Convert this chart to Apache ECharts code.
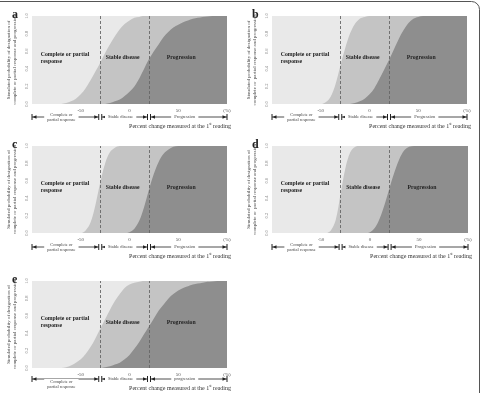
<!DOCTYPE html>
<html>
<head>
<meta charset="utf-8">
<script src="https://cdn.jsdelivr.net/npm/echarts@6/dist/echarts.min.js"></script>
<style>
    html, body { margin: 0; padding: 0; background: #fff; }
    #main { width: 483px; height: 393px; }
</style>
</head>
<body>
<div id="main"></div>
<script>
// percent change grid (x), shared by every curve
var xs = [-100, -95, -90, -85, -80, -75, -70, -65, -60, -55, -50, -45, -40, -35, -30, -25, -20, -15, -10, -5,
    0, 5, 10, 15, 20, 25, 30, 35, 40, 45, 50, 55, 60, 65, 70, 75, 80, 85, 90, 95, 100];

// P(stable disease or progression) - upper boundary
var upperA = [0, 0, 0, 0, 0, 0, 0, 0.01, 0.03, 0.06, 0.11, 0.18, 0.27, 0.37, 0.47, 0.58, 0.68, 0.77, 0.85, 0.91, 0.95, 0.98, 0.99,
    1, 1, 1, 1, 1, 1, 1, 1, 1, 1, 1, 1, 1, 1, 1, 1, 1, 1];
var upperB = [0, 0, 0, 0, 0, 0, 0, 0, 0, 0, 0, 0.02, 0.08, 0.22, 0.43, 0.63, 0.8, 0.91, 0.97, 0.99,
    1, 1, 1, 1, 1, 1, 1, 1, 1, 1, 1, 1, 1, 1, 1, 1, 1, 1, 1, 1, 1];
var upperC = [0, 0, 0, 0, 0, 0, 0, 0, 0, 0, 0, 0.03, 0.12, 0.32, 0.58, 0.8, 0.93, 0.98,
    1, 1, 1, 1, 1, 1, 1, 1, 1, 1, 1, 1, 1, 1, 1, 1, 1, 1, 1, 1, 1, 1, 1];
var upperD = [0, 0, 0, 0, 0, 0, 0, 0, 0, 0, 0, 0, 0.03, 0.15, 0.45, 0.75, 0.93, 0.99,
    1, 1, 1, 1, 1, 1, 1, 1, 1, 1, 1, 1, 1, 1, 1, 1, 1, 1, 1, 1, 1, 1, 1];
var upperE = [0, 0, 0, 0, 0, 0, 0, 0.01, 0.03, 0.06, 0.1, 0.16, 0.24, 0.34, 0.45, 0.56, 0.67, 0.77, 0.85, 0.92, 0.96, 0.98, 0.99,
    1, 1, 1, 1, 1, 1, 1, 1, 1, 1, 1, 1, 1, 1, 1, 1, 1, 1];

// P(progression) - lower boundary
var lowerA = [0, 0, 0, 0, 0, 0, 0, 0, 0, 0, 0, 0, 0, 0, 0, 0, 0.01, 0.03, 0.05, 0.09, 0.14, 0.2, 0.29, 0.4, 0.51,
    0.6, 0.68, 0.76, 0.82, 0.87, 0.9, 0.93, 0.95, 0.97, 0.98, 0.99, 0.995, 1, 1, 1, 1];
var lowerB = [0, 0, 0, 0, 0, 0, 0, 0, 0, 0, 0, 0, 0, 0, 0, 0, 0, 0.01, 0.03, 0.06, 0.11, 0.18, 0.28, 0.39, 0.5,
    0.62, 0.74, 0.84, 0.92, 0.97, 0.99, 1, 1, 1, 1, 1, 1, 1, 1, 1, 1];
var lowerC = [0, 0, 0, 0, 0, 0, 0, 0, 0, 0, 0, 0, 0, 0, 0, 0, 0, 0, 0, 0, 0.01, 0.05, 0.14, 0.3, 0.5,
    0.68, 0.82, 0.91, 0.96, 0.99, 1, 1, 1, 1, 1, 1, 1, 1, 1, 1, 1];
var lowerD = [0, 0, 0, 0, 0, 0, 0, 0, 0, 0, 0, 0, 0, 0, 0, 0, 0, 0, 0, 0, 0.01, 0.06, 0.17, 0.33, 0.52,
    0.7, 0.85, 0.95, 0.99, 1, 1, 1, 1, 1, 1, 1, 1, 1, 1, 1, 1];
var lowerE = [0, 0, 0, 0, 0, 0, 0, 0, 0, 0, 0, 0, 0, 0, 0, 0.01, 0.02, 0.04, 0.06, 0.1, 0.15, 0.22, 0.3, 0.39, 0.48,
    0.57, 0.66, 0.73, 0.8, 0.85, 0.89, 0.92, 0.94, 0.96, 0.97, 0.98, 0.99, 0.995, 1, 1, 1];

var panelLetters = ['a', 'b', 'c', 'd', 'e'];
var cutoffs = [-30, 20];
var xTickValues = [-50, 0, 50];
var xUnit = '(%)';
var yTitles = [
    'Simulated probability of designation of\ncomplete or partial response and progression',
    'Simulated probability of designation of\ncomplete or  partial response and progression',
    'Simulated probability of designation of\ncomplete or partial response and progression',
    'Simulated probability of designation of\ncomplete or  partial response and progression',
    'Simulated probability of designation of\ncomplete or partial response and progression'
];
var regionNames = ['Complete or partial\nresponse', 'Stable disease', 'Progression'];
var rangeNames = ['Complete or\npartial response', 'Stable disease', 'Progression'];
var rangeNamesE = ['Complete or\npartial response', 'Stable disease', 'progression'];
var xTitle = 'Percent change measured at the 1{s|st} reading';

var uppers = [upperA, upperB, upperC, upperD, upperE];
var lowers = [lowerA, lowerB, lowerC, lowerD, lowerE];

var LIGHT = '#e9e9e9', MID = '#c4c4c4', DARK = '#8e8e8e';
var SERIF = '"Liberation Serif", "DejaVu Serif", serif';

var grids = [
    { left: 32, top: 16, width: 195, height: 88 },
    { left: 272, top: 16, width: 195, height: 88 },
    { left: 32, top: 146, width: 195, height: 87 },
    { left: 272, top: 146, width: 196, height: 87 },
    { left: 32, top: 281, width: 195, height: 87 }
];
var arrowDy = [13, 13, 14, 14, 11];
var titleDy = [22, 22, 23, 23, 20];

function pairs(ys) {
    return xs.map(function (x, k) { return [x, ys[k]]; });
}

var myChart = echarts.init(document.getElementById('main'));

var option = {
    animation: false,
    grid: [],
    xAxis: [],
    yAxis: [],
    series: []
};

grids.forEach(function (g, i) {
    option.grid.push({
        left: g.left, top: g.top, width: g.width, height: g.height,
        show: true, backgroundColor: LIGHT, borderWidth: 0
    });
    option.xAxis.push({
        type: 'value', gridIndex: i, min: -100, max: 100, interval: 50,
        axisLine: { show: false }, axisTick: { show: false }, splitLine: { show: false },
        axisLabel: {
            fontSize: 5, color: '#555', fontFamily: SERIF, margin: 4,
            showMaxLabel: true, showMinLabel: true,
            formatter: function (v) {
                if (v === 100) return xUnit;
                return xTickValues.indexOf(v) >= 0 ? String(v) : '';
            }
        }
    });
    option.yAxis.push({
        type: 'value', gridIndex: i, min: 0, max: 1, interval: 0.2,
        axisLine: { show: false }, axisTick: { show: false }, splitLine: { show: false },
        axisLabel: {
            fontSize: 4.5, color: '#777', fontFamily: SERIF, rotate: 90, margin: 3,
            formatter: function (v) { return v.toFixed(1); }
        },
        name: yTitles[i], nameLocation: 'middle', nameRotate: 90, nameGap: 14,
        nameTextStyle: { fontSize: 5, lineHeight: 6, color: '#444', fontFamily: SERIF }
    });
    option.series.push({
        type: 'line', xAxisIndex: i, yAxisIndex: i,
        data: pairs(uppers[i]), smooth: 0.35,
        symbol: 'none', lineStyle: { width: 0 },
        areaStyle: { color: MID, opacity: 1 }, silent: true
    });
    option.series.push({
        type: 'line', xAxisIndex: i, yAxisIndex: i,
        data: pairs(lowers[i]), smooth: 0.35,
        symbol: 'none', lineStyle: { width: 0 },
        areaStyle: { color: DARK, opacity: 1 }, silent: true,
        markLine: {
            silent: true, symbol: 'none', label: { show: false },
            lineStyle: { color: '#666', type: [3, 2], width: 0.9 },
            data: cutoffs.map(function (c) { return { xAxis: c }; })
        }
    });
});

myChart.setOption(option);

// 注释：字母、区域名称、箭头行、x轴标题
var graphic = [];
graphic.push({
    type: 'rect', silent: true, z: 100,
    shape: { x: -10, y: 1.5, width: 489.5, height: 420, r: 8 },
    style: { fill: 'none', stroke: '#555', lineWidth: 1 }
});

grids.forEach(function (g, i) {
    var px = function (v) { return myChart.convertToPixel({ gridIndex: i }, [v, 0])[0]; };
    var py = function (v) { return myChart.convertToPixel({ gridIndex: i }, [0, v])[1]; };

    graphic.push({
        type: 'text', x: g.left - 20, y: g.top - 1, silent: true, z: 100,
        style: { text: panelLetters[i], font: 'bold 12px ' + SERIF, fill: '#222', verticalAlign: 'middle' }
    });

    var ly = py(0.53);
    var regionFont = 'bold 7px ' + SERIF;
    graphic.push({
        type: 'text', x: px(-91), y: ly, silent: true, z: 100, scaleX: 0.82,
        style: { text: regionNames[0], font: regionFont, fill: '#222', verticalAlign: 'middle', lineHeight: 7 }
    });
    graphic.push({
        type: 'text', x: px(-7), y: ly, silent: true, z: 100, scaleX: 0.82,
        style: { text: regionNames[1], font: regionFont, fill: '#222', align: 'center', verticalAlign: 'middle' }
    });
    graphic.push({
        type: 'text', x: px(53), y: ly, silent: true, z: 100, scaleX: 0.82,
        style: { text: regionNames[2], font: regionFont, fill: '#222', align: 'center', verticalAlign: 'middle' }
    });

    // 箭头行
    var y = g.top + g.height + arrowDy[i];
    var bounds = [-100].concat(cutoffs).concat([100]);
    var names = i === 4 ? rangeNamesE : rangeNames;
    for (var k = 0; k < 3; k++) {
        var xa = px(bounds[k]) + (k > 0 ? 1.5 : 0);
        var xb = px(bounds[k + 1]) - (k < 2 ? 1.5 : 0);
        graphic.push({ type: 'line', silent: true, z: 100, shape: { x1: xa, y1: y, x2: xb, y2: y }, style: { stroke: '#222', lineWidth: 0.8 } });
        graphic.push({ type: 'line', silent: true, z: 100, shape: { x1: xa, y1: y - 3, x2: xa, y2: y + 3 }, style: { stroke: '#222', lineWidth: 1 } });
        graphic.push({ type: 'line', silent: true, z: 100, shape: { x1: xb, y1: y - 3, x2: xb, y2: y + 3 }, style: { stroke: '#222', lineWidth: 1 } });
        graphic.push({ type: 'polygon', silent: true, z: 100, shape: { points: [[xa + 0.5, y], [xa + 4.5, y - 1.8], [xa + 4.5, y + 1.8]] }, style: { fill: '#222' } });
        graphic.push({ type: 'polygon', silent: true, z: 100, shape: { points: [[xb - 0.5, y], [xb - 4.5, y - 1.8], [xb - 4.5, y + 1.8]] }, style: { fill: '#222' } });
        var twoLine = names[k].indexOf('\n') >= 0;
        graphic.push({
            type: 'text', silent: true, z: 110,
            x: (xa + xb) / 2 - 4, y: y + (i === 4 && twoLine ? 5 : 0),
            style: {
                text: names[k], font: '4.5px ' + SERIF, fill: '#444', align: 'center', verticalAlign: 'middle',
                lineHeight: 5, backgroundColor: '#fff', padding: [0, 3]
            }
        });
    }

    graphic.push({
        type: 'text', silent: true, z: 100,
        x: g.left + g.width + 4, y: g.top + g.height + titleDy[i],
        style: {
            text: xTitle, font: '6px ' + SERIF, fill: '#333', align: 'right', verticalAlign: 'middle',
            rich: { s: { fontSize: 3.5, verticalAlign: 'top', padding: [0, 0, 3, 0], fontFamily: SERIF, fill: '#333' } }
        }
    });
});

myChart.setOption({ graphic: graphic });
</script>
</body>
</html>
